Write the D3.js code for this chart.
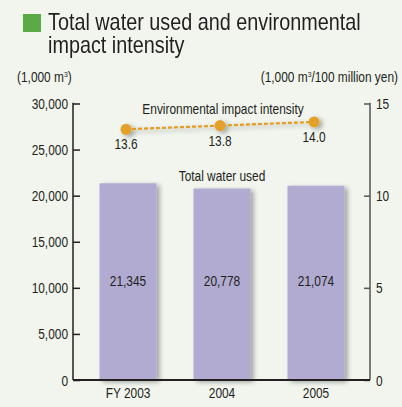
<!DOCTYPE html>
<html>
<head>
<meta charset="utf-8">
<script src="https://cdn.jsdelivr.net/npm/d3@7"></script>
<style>
  html, body { margin: 0; padding: 0; background: #f1f5ee; }
  #wrap { position: relative; width: 402px; height: 407px; }
  svg { display: block; position: absolute; left: 0; top: 0; }
  text { font-family: "Liberation Sans", Arial, sans-serif; fill: #231f20; }
  #title { position: absolute; left: 48px; top: 10px; font-family: "Liberation Sans", Arial, sans-serif;
    font-size: 24px; line-height: 23px; color: #231f20; white-space: nowrap;
    transform: scaleX(0.825); transform-origin: 0 0; }
</style>
</head>
<body>
<div id="wrap">
<svg id="chart" width="402" height="407"></svg>
<div id="title"></div>
</div>
<script>
const categories = ["FY 2003", "2004", "2005"];
const waterUsed = [21345, 20778, 21074];
const intensity = [13.6, 13.8, 14.0];
const leftTicks = [0, 5000, 10000, 15000, 20000, 25000, 30000];
const rightTicks = [0, 5, 10, 15];
const titleLines = ["Total water used and environmental", "impact intensity"];

const SX = 0.85; // horizontal condensing to mimic a condensed face
const svg = d3.select("#chart");
const W = 402, H = 407;
svg.append("rect").attr("width", W).attr("height", H).attr("fill", "#f1f5ee");

const defs = svg.append("defs");
const sh = defs.append("filter").attr("id", "shadow").attr("x", "-30%").attr("y", "-30%").attr("width", "160%").attr("height", "160%");
sh.append("feGaussianBlur").attr("in", "SourceAlpha").attr("stdDeviation", 2.5).attr("result", "b");
sh.append("feOffset").attr("in", "b").attr("dx", 3).attr("dy", 2).attr("result", "o");
sh.append("feComponentTransfer").attr("in", "o").attr("result", "o2")
  .append("feFuncA").attr("type", "linear").attr("slope", 0.35);
const m = sh.append("feMerge");
m.append("feMergeNode").attr("in", "o2");
m.append("feMergeNode").attr("in", "SourceGraphic");

function ctext(parent, x, y, size, anchor) {
  return parent.append("text")
    .attr("transform", `translate(${x},${y}) scale(${SX},1)`)
    .attr("font-size", size)
    .attr("text-anchor", anchor || "start");
}

// Title
svg.append("rect").attr("x", 23).attr("y", 14).attr("width", 18).attr("height", 18).attr("fill", "#5aaa46");
d3.select("#title").html(titleLines.join("<br>"));

const x0 = 73, x1 = 370, yTop = 103.5, yBot = 380;
const x = d3.scaleBand().domain(categories).range([81, 363]).paddingInner(0.394).paddingOuter(0.197);
const yL = d3.scaleLinear().domain([0, 30000]).range([yBot, yTop]);
const yR = d3.scaleLinear().domain([0, 15]).range([yBot, yTop]);

// axis titles
const at = ctext(svg, 17, 82, 14);
at.append("tspan").text("(1,000 m");
at.append("tspan").attr("font-size", 8).attr("dy", -5).text("3");
at.append("tspan").attr("dy", 5).text(")");
const at2 = ctext(svg, 398, 82, 14, "end");
at2.append("tspan").text("(1,000 m");
at2.append("tspan").attr("font-size", 8).attr("dy", -5).text("3");
at2.append("tspan").attr("dy", 5).text("/100 million yen)");

// bars
svg.append("g").selectAll("rect").data(waterUsed).join("rect")
  .attr("x", (d, i) => x(categories[i]))
  .attr("width", x.bandwidth())
  .attr("y", d => yL(d))
  .attr("height", d => yBot - yL(d))
  .attr("fill", "#b1abd1")
  .attr("filter", "url(#shadow)");

const bl = svg.append("g");
waterUsed.forEach((d, i) => {
  ctext(bl, x(categories[i]) + x.bandwidth() / 2, 286, 14, "middle").text(d3.format(",")(d));
});

// Axes
const fmt = d3.format(",");
const gL = svg.append("g").attr("transform", `translate(${x0},0)`)
  .call(d3.axisLeft(yL).tickValues(leftTicks).tickSize(-7).tickPadding(5).tickFormat(fmt));
gL.select(".domain").remove();
gL.selectAll(".tick line").attr("stroke", "#231f20").attr("stroke-width", 1.5);
gL.selectAll(".tick text").attr("font-size", 14).attr("font-family", "Liberation Sans, Arial, sans-serif")
  .attr("fill", "#231f20").attr("x", -5 / SX).attr("dy", "0.36em").attr("transform", `scale(${SX},1)`);
svg.append("line").attr("x1", x0).attr("x2", x0).attr("y1", yTop - 0.75).attr("y2", yBot).attr("stroke", "#231f20").attr("stroke-width", 1.5);

const gR = svg.append("g").attr("transform", `translate(${x1},0)`)
  .call(d3.axisRight(yR).tickValues(rightTicks).tickSize(-6).tickPadding(6));
gR.select(".domain").remove();
gR.selectAll(".tick line").attr("stroke", "#555").attr("stroke-width", 1.5);
gR.selectAll(".tick text").attr("font-size", 14).attr("font-family", "Liberation Sans, Arial, sans-serif")
  .attr("fill", "#231f20").attr("x", 6 / SX).attr("dy", "0.36em").attr("transform", `scale(${SX},1)`);
svg.append("line").attr("x1", x1).attr("x2", x1).attr("y1", yTop - 0.75).attr("y2", yBot).attr("stroke", "#555").attr("stroke-width", 1.5);

// bottom axis
svg.append("line").attr("x1", x0).attr("x2", x1).attr("y1", yBot).attr("y2", yBot).attr("stroke", "#231f20").attr("stroke-width", 2);
const gB = svg.append("g").attr("transform", `translate(0,${yBot})`)
  .call(d3.axisBottom(x).tickSize(0).tickPadding(8));
gB.select(".domain").remove();
gB.selectAll(".tick text").attr("font-size", 14).attr("font-family", "Liberation Sans, Arial, sans-serif")
  .attr("fill", "#231f20").attr("y", 8).attr("transform", `scale(${SX},1)`);

// series labels
ctext(svg, 223, 114, 14, "middle").text("Environmental impact intensity");
ctext(svg, 222, 181, 14, "middle").text("Total water used");

// line
const px = (d, i) => x(categories[i]) + x.bandwidth() / 2 - 2;
const line = d3.line().x(px).y(d => yR(d));
const lg = svg.append("g").attr("filter", "url(#shadow)");
lg.append("path").datum(intensity).attr("d", line).attr("fill", "none")
  .attr("stroke", "#e09c25").attr("stroke-width", 2.2).attr("stroke-dasharray", "4,2");
lg.selectAll("circle").data(intensity).join("circle")
  .attr("cx", px).attr("cy", d => yR(d)).attr("r", 5.5).attr("fill", "#e3a12b");

const il = svg.append("g");
intensity.forEach((d, i) => {
  ctext(il, px(d, i), yR(d) + 20, 14, "middle").text(d3.format(".1f")(d));
});
</script>
</body>
</html>
